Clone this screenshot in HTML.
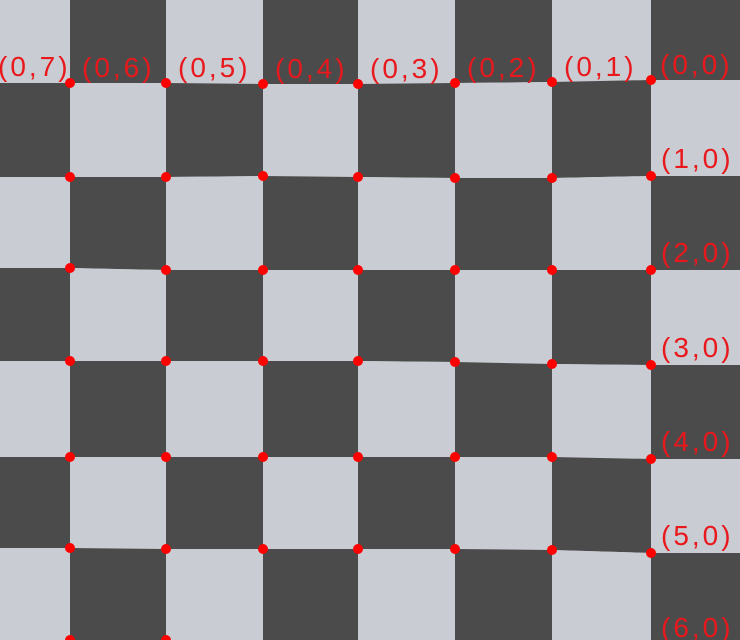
<!DOCTYPE html>
<html><head><meta charset="utf-8"><style>
html,body{margin:0;padding:0;background:#c9cdd3;width:740px;height:640px;overflow:hidden;}
svg{display:block;}
text{font-family:"Liberation Sans",sans-serif;font-size:28px;fill:#e8181c;letter-spacing:3px;}
</style></head><body>
<svg id="chart" width="740" height="640" viewBox="0 0 740 640" xmlns="http://www.w3.org/2000/svg" overflow="hidden"></svg>
<script>
const colX = [70,166,263,358,455,552,651];
const rowY = [
 [83,83,84,84,83,82,80],
 [177,177,176,177,178,178,176],
 [268,270,270,270,270,270,270],
 [361,361,361,361,362,364,365],
 [457,457,457,457,457,457,459],
 [548,549,549,549,549,550,553],
 [640,640,641,641,641,642,645]
];
const topLabels = ["(0,6)","(0,5)","(0,4)","(0,3)","(0,2)","(0,1)","(0,0)"];
const sideLabels = ["(1,0)","(2,0)","(3,0)","(4,0)","(5,0)","(6,0)"];
const NS="http://www.w3.org/2000/svg";
const svg=document.getElementById('chart');
const DARK="#4b4b4b", LIGHT="#c9cdd3";
const xs=[-26,...colX,747];
function yAt(r,c){
  const rr=Math.max(0,Math.min(6,r)), cc=Math.max(0,Math.min(6,c));
  let y=rowY[rr][cc];
  if(r<0) y-=94; if(r>6) y+=94;
  return y;
}
function xAt(c){return xs[c+1];}
for(let r=-1;r<7;r++){
  for(let c=-1;c<7;c++){
    const dark=((r+1)+(c+1))%2===1;
    const p=document.createElementNS(NS,'polygon');
    const pts=[[xAt(c),yAt(r,c)],[xAt(c+1),yAt(r,c+1)],[xAt(c+1),yAt(r+1,c+1)],[xAt(c),yAt(r+1,c)]];
    p.setAttribute('points',pts.map(q=>q.join(',')).join(' '));
    p.setAttribute('fill',dark?DARK:LIGHT);
    
    
    svg.appendChild(p);
  }
}
for(let r=0;r<7;r++){
  for(let c=0;c<7;c++){
    if(rowY[r][c]>=640 && c>1) continue;
    const d=document.createElementNS(NS,'circle');
    d.setAttribute('cx',colX[c]);d.setAttribute('cy',rowY[r][c]);d.setAttribute('r',5);
    d.setAttribute('fill','#ff0000');
    
    
    svg.appendChild(d);
  }
}
function label(txt,x,y){
  const t=document.createElementNS(NS,'text');
  t.setAttribute('x',x);t.setAttribute('y',y);t.textContent=txt;
  
  
  svg.appendChild(t);
}
label("(0,7)",-2,76);
for(let c=0;c<7;c++){
  label(topLabels[c], c<6? colX[c]+12 : 660, rowY[0][c]-6);
}
for(let r=1;r<7;r++){
  label(sideLabels[r-1],661,rowY[r][6]-8);
}
</script>
</body></html>
